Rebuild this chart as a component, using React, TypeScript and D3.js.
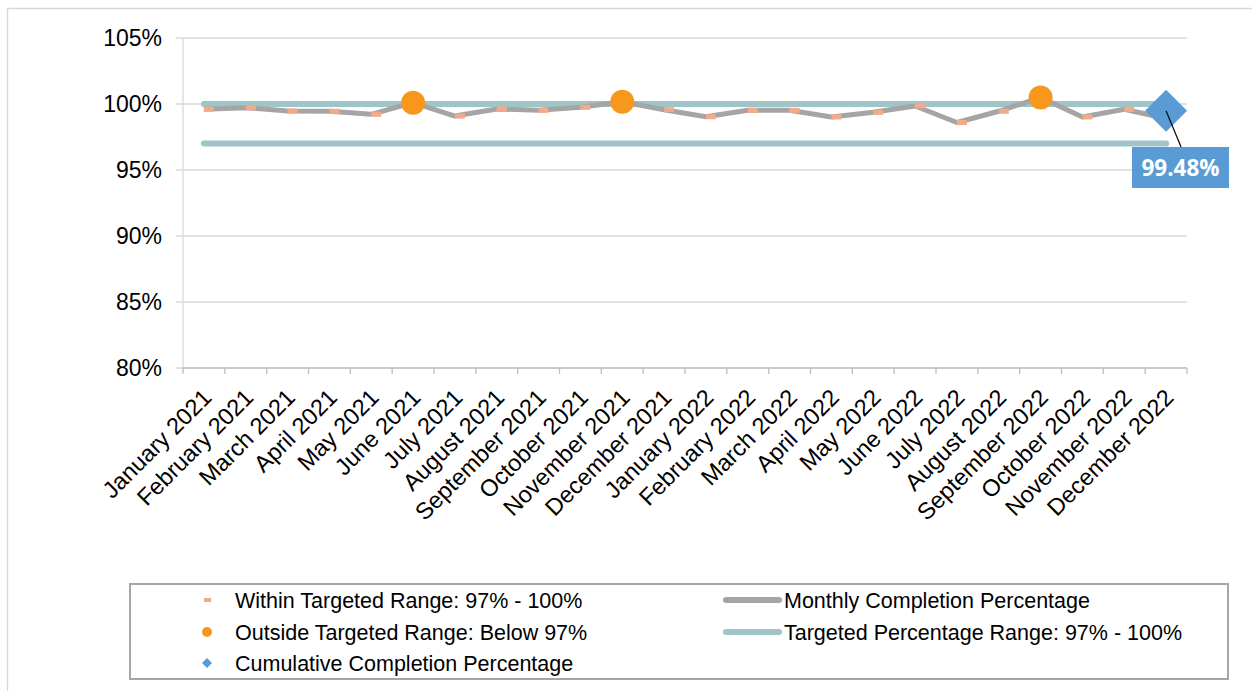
import React from 'react';
import * as d3 from 'd3';

const months = [
  'January 2021', 'February 2021', 'March 2021', 'April 2021', 'May 2021', 'June 2021',
  'July 2021', 'August 2021', 'September 2021', 'October 2021', 'November 2021', 'December 2021',
  'January 2022', 'February 2022', 'March 2022', 'April 2022', 'May 2022', 'June 2022',
  'July 2022', 'August 2022', 'September 2022', 'October 2022', 'November 2022', 'December 2022',
];
// monthly completion %
const monthly = [
  99.6, 99.72, 99.47, 99.45, 99.22, 100.1, 99.09, 99.62, 99.52, 99.75, 100.17, 99.57,
  99.04, 99.52, 99.52, 99.02, 99.37, 99.85, 98.6, 99.45, 100.5, 99.02, 99.6, 98.9,
];
const cumulativeMonth = 'December 2022';
const cumulativeValue = 99.48;
const targetLow = 97;
const targetHigh = 100;
const yTicks = [80, 85, 90, 95, 100, 105];

const W = 1252;
const H = 691;
const left = 183, right = 1187, top = 38, bottom = 368;
const font = '"Liberation Sans", Arial, sans-serif';

const App = () => {
  const x = d3.scaleBand<string>().domain(months).range([left, right]).padding(0);
  const bw = x.bandwidth();
  const cx = (m: string) => (x(m) as number) + bw / 2;
  const y = d3.scaleLinear().domain([80, 105]).range([bottom, top]);

  const line = d3.line<number>().x((_, i) => cx(months[i])).y(d => y(d));
  const first = months[0];
  const last = months[months.length - 1];

  const within = monthly.map((v, i) => ({ v, m: months[i] })).filter(d => d.v >= targetLow && d.v <= targetHigh);
  const outside = monthly.map((v, i) => ({ v, m: months[i] })).filter(d => d.v < targetLow || d.v > targetHigh);

  const dx = cx(cumulativeMonth);
  const dy = y(cumulativeValue);
  const ds = 21;

  const edges = months.map(m => x(m) as number).concat([right]);

  return (
    <svg width={W} height={H} style={{ position: 'absolute', left: 0, top: 0, background: '#fff' }} fontFamily={font}>
      <rect x={7.5} y={8.5} width={1400} height={800} fill="none" stroke="#D9D9D9" strokeWidth={1.5} />

      {yTicks.map(t => (
        <g key={t}>
          <line x1={left - 7} x2={right} y1={y(t)} y2={y(t)} stroke="#D9D9D9" strokeWidth={1.3} />
          <text x={162} y={y(t)} dy="0.36em" textAnchor="end" fontSize={23} fill="#000">{t}%</text>
        </g>
      ))}
      <line x1={left} x2={left} y1={top} y2={bottom} stroke="#D9D9D9" strokeWidth={1.3} />
      {edges.map((e, i) => (
        <line key={i} x1={e} x2={e} y1={bottom} y2={bottom + 6} stroke="#BFBFBF" strokeWidth={1.3} />
      ))}
      <line x1={left} x2={right} y1={bottom} y2={bottom} stroke="#BFBFBF" strokeWidth={1.3} />

      {months.map(m => (
        <text key={m} transform={`translate(${cx(m) + 9},${bottom + 31}) rotate(-45)`} textAnchor="end" fontSize={23.5} fill="#000">{m}</text>
      ))}

      {[targetHigh, targetLow].map(t => (
        <line key={t} x1={cx(first)} x2={cx(last)} y1={y(t)} y2={y(t)} stroke="#9FC5C8" strokeWidth={6} strokeLinecap="round" />
      ))}

      <path d={line(monthly) || ''} fill="none" stroke="#A5A5A5" strokeWidth={5} strokeLinejoin="round" />

      {within.map(d => (
        <rect key={d.m} x={cx(d.m)} y={y(d.v) - 2.5} width={10} height={5} fill="#F4AA8A" />
      ))}
      {outside.map(d => (
        <circle key={d.m} cx={cx(d.m)} cy={y(d.v)} r={12} fill="#F7981D" />
      ))}

      <path d={`M${dx},${dy - ds}L${dx + ds},${dy}L${dx},${dy + ds}L${dx - ds},${dy}Z`} fill="#5B9BD5" />
      <line x1={dx} y1={dy} x2={dx + 15} y2={147} stroke="#000" strokeWidth={1.2} />
      <rect x={1132} y={147} width={97} height={41} fill="#5B9BD5" />
      <text x={1180.5} y={167.5} dy="0.36em" textAnchor="middle" fontSize={22.5} fontWeight="bold" fill="#fff" fontFamily='"Open Sans", "Noto Sans", sans-serif'>
        {cumulativeValue.toFixed(2)}%
      </text>

      <rect x={130} y={584} width={1098} height={95} fill="#fff" stroke="#A6A6A6" strokeWidth={2} />
      <g fontSize={21.5} fill="#000">
        <rect x={204} y={598} width={7} height={4} fill="#F4AA8A" />
        <text x={235} y={600} dy="0.36em">Within Targeted Range: 97% - 100%</text>
        <circle cx={207} cy={632} r={5} fill="#F7981D" />
        <text x={235} y={632} dy="0.36em">Outside Targeted Range: Below 97%</text>
        <path d="M207,658L212,663L207,668L202,663Z" fill="#5B9BD5" />
        <text x={235} y={663} dy="0.36em">Cumulative Completion Percentage</text>
        <line x1={726} x2={779} y1={600} y2={600} stroke="#A5A5A5" strokeWidth={6} strokeLinecap="round" />
        <text x={784} y={600} dy="0.36em">Monthly Completion Percentage</text>
        <line x1={726} x2={779} y1={632} y2={632} stroke="#9FC5C8" strokeWidth={6} strokeLinecap="round" />
        <text x={784} y={632} dy="0.36em">Targeted Percentage Range: 97% - 100%</text>
      </g>
    </svg>
  );
};

export default App;
